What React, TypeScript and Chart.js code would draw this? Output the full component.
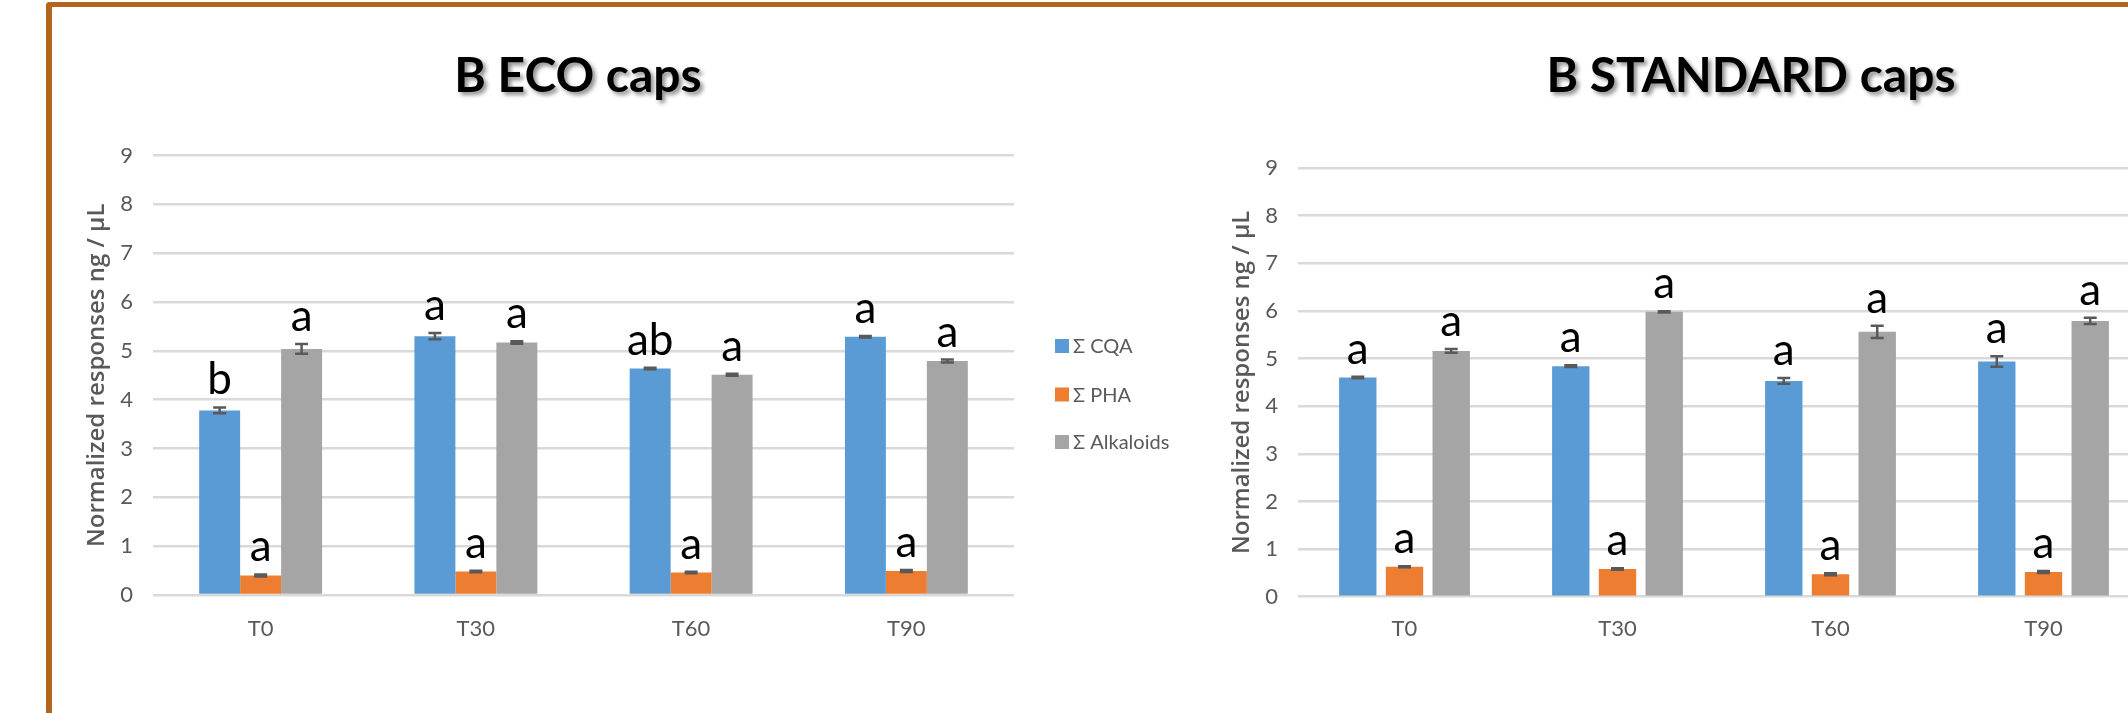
import React, { useEffect, useRef } from "react";
import { Chart, registerables } from "chart.js";

Chart.register(...registerables);

const categories = ["T0", "T30", "T60", "T90"];
const seriesNames = ["Σ CQA", "Σ PHA", "Σ Alkaloids"];
const seriesColors = ["#5B9BD5", "#ED7D31", "#A5A5A5"];
const yTicksMax = 9;

// B ECO caps
const ecoCQA = [3.78, 5.3, 4.64, 5.29];
const ecoCQAErr = [0.06, 0.065, 0.015, 0.015];
const ecoCQALetters = ["b", "a", "ab", "a"];
const ecoPHA = [0.4, 0.48, 0.46, 0.49];
const ecoPHAErr = [0.02, 0.015, 0.015, 0.02];
const ecoPHALetters = ["a", "a", "a", "a"];
const ecoAlk = [5.04, 5.17, 4.51, 4.79];
const ecoAlkErr = [0.1, 0.026, 0.02, 0.03];
const ecoAlkLetters = ["a", "a", "a", "a"];

// B STANDARD caps
const stdCQA = [4.6, 4.84, 4.53, 4.94];
const stdCQAErr = [0.015, 0.02, 0.06, 0.11];
const stdCQALetters = ["a", "a", "a", "a"];
const stdPHA = [0.63, 0.58, 0.47, 0.52];
const stdPHAErr = [0.01, 0.015, 0.02, 0.02];
const stdPHALetters = ["a", "a", "a", "a"];
const stdAlk = [5.16, 5.98, 5.56, 5.79];
const stdAlkErr = [0.04, 0.015, 0.13, 0.065];
const stdAlkLetters = ["a", "a", "a", "a"];

const AXIS_COLOR = "#595959";
const GRID_COLOR = "#D9D9D9";

type Cfg = {
  title: string;
  titleX: number;
  values: number[][];
  errors: number[][];
  letters: string[][];
  padding: { left: number; right: number; top: number; bottom: number };
  catPct: number;
  barPct: number;
  xTickPad: number;
};

function makeChart(canvas: HTMLCanvasElement, cfg: Cfg) {
  const annotPlugin = {
    id: "annot" + cfg.title.replace(/\s/g, ""),
    afterDatasetsDraw(chart: any) {
      const ctx = chart.ctx as CanvasRenderingContext2D;
      const ys = chart.scales.y;
      chart.data.datasets.forEach((ds: any, i: number) => {
        const meta = chart.getDatasetMeta(i);
        meta.data.forEach((bar: any, j: number) => {
          const v = ds.data[j];
          const e = ds.errors[j];
          const yt = ys.getPixelForValue(v + e);
          const yb = ys.getPixelForValue(v - e);
          ctx.save();
          ctx.strokeStyle = "#595959";
          ctx.lineWidth = 2.5;
          ctx.beginPath();
          ctx.moveTo(bar.x, yt);
          ctx.lineTo(bar.x, yb);
          ctx.moveTo(bar.x - 6.5, yt);
          ctx.lineTo(bar.x + 6.5, yt);
          ctx.moveTo(bar.x - 6.5, yb);
          ctx.lineTo(bar.x + 6.5, yb);
          ctx.stroke();
          ctx.fillStyle = "#000000";
          ctx.font = "44px Lato";
          ctx.textAlign = "center";
          ctx.textBaseline = "alphabetic";
          ctx.fillText(ds.letters[j], bar.x, yt - 13);
          ctx.restore();
        });
      });
    },
    afterDraw(chart: any) {
      const ctx = chart.ctx as CanvasRenderingContext2D;
      const area = chart.chartArea;
      // title with shadow
      ctx.save();
      ctx.font = "bold 48px Lato";
      ctx.textAlign = "center";
      ctx.textBaseline = "alphabetic";
      ctx.shadowColor = "rgba(0,0,0,0.45)";
      ctx.shadowOffsetX = 3;
      ctx.shadowOffsetY = 3;
      ctx.shadowBlur = 4;
      ctx.fillStyle = "#000000";
      ctx.fillText(cfg.title, cfg.titleX, 92);
      ctx.restore();
      // legend
      ctx.save();
      const lx = area.right + 41;
      const rows = [190.5, 239, 286.5];
      chart.data.datasets.forEach((ds: any, i: number) => {
        const cy = area.top + rows[i];
        ctx.fillStyle = ds.backgroundColor;
        ctx.fillRect(lx, cy - 7, 14, 14);
        ctx.fillStyle = AXIS_COLOR;
        ctx.font = "20px Lato";
        ctx.textAlign = "left";
        ctx.textBaseline = "middle";
        ctx.fillText(ds.label, lx + 18, cy + 1);
      });
      ctx.restore();
    },
  };

  return new Chart(canvas, {
    type: "bar",
    data: {
      labels: categories,
      datasets: seriesNames.map((name, i) => ({
        label: name,
        data: cfg.values[i],
        errors: cfg.errors[i],
        letters: cfg.letters[i],
        backgroundColor: seriesColors[i],
        borderWidth: 0,
        categoryPercentage: cfg.catPct,
        barPercentage: cfg.barPct,
      })) as any,
    },
    options: {
      responsive: true,
      maintainAspectRatio: false,
      animation: false,
      layout: { padding: cfg.padding },
      plugins: {
        legend: { display: false },
        title: { display: false },
        tooltip: { enabled: false },
      },
      scales: {
        x: {
          grid: { display: false, drawTicks: false },
          border: { display: false },
          ticks: {
            color: AXIS_COLOR,
            font: { family: "Lato", size: 22 },
            padding: cfg.xTickPad,
            maxRotation: 0,
          },
          afterFit: (s: any) => {
            s.height = 60;
          },
        },
        y: {
          min: 0,
          max: yTicksMax,
          grid: { color: GRID_COLOR, lineWidth: 2.5, drawTicks: false },
          border: { display: false },
          ticks: {
            stepSize: 1,
            color: AXIS_COLOR,
            font: { family: "Lato", size: 22 },
            padding: 20,
          },
          title: {
            display: true,
            text: "Normalized responses ng / µL",
            color: AXIS_COLOR,
            font: { family: "Open Sans", size: 24, weight: "600" as any },
            padding: 4,
          },
          afterFit: (s: any) => {
            s.width = 74;
          },
        },
      },
    },
    plugins: [annotPlugin as any],
  });
}

function ChartBox(props: { left: number; cfg: Cfg }) {
  const ref = useRef<HTMLCanvasElement | null>(null);
  useEffect(() => {
    if (!ref.current) return;
    const c = makeChart(ref.current, props.cfg);
    return () => c.destroy();
  }, []);
  return (
    <div style={{ position: "absolute", left: props.left, top: 0, width: 1250, height: 713 }}>
      <canvas ref={ref} />
    </div>
  );
}

const ecoCfg: Cfg = {
  title: "B ECO caps",
  titleX: 578,
  values: [ecoCQA, ecoPHA, ecoAlk],
  errors: [ecoCQAErr, ecoPHAErr, ecoAlkErr],
  letters: [ecoCQALetters, ecoPHALetters, ecoAlkLetters],
  padding: { left: 79, right: 236, top: 155.5, bottom: 58 },
  catPct: 0.571,
  barPct: 1.0,
  xTickPad: 21,
};

const stdCfg: Cfg = {
  title: "B STANDARD caps",
  titleX: 601,
  values: [stdCQA, stdPHA, stdAlk],
  errors: [stdCQAErr, stdPHAErr, stdAlkErr],
  letters: [stdCQALetters, stdPHALetters, stdAlkLetters],
  padding: { left: 74, right: 250, top: 168, bottom: 56.3 },
  catPct: 0.658,
  barPct: 0.8,
  xTickPad: 19,
};

export default function App() {
  return (
    <div
      style={{
        position: "fixed",
        left: 0,
        top: 0,
        width: 2128,
        height: 713,
        overflow: "hidden",
        background: "#ffffff",
      }}
    >
      <ChartBox left={0} cfg={ecoCfg} />
      <ChartBox left={1150} cfg={stdCfg} />
      <div
        style={{
          position: "absolute",
          left: 46,
          top: 2,
          width: 3000,
          height: 2000,
          borderTop: "5px solid #B4651C",
          borderLeft: "6px solid #B4651C",
          borderTopLeftRadius: 4,
          boxSizing: "border-box",
          pointerEvents: "none",
        }}
      />
    </div>
  );
}
